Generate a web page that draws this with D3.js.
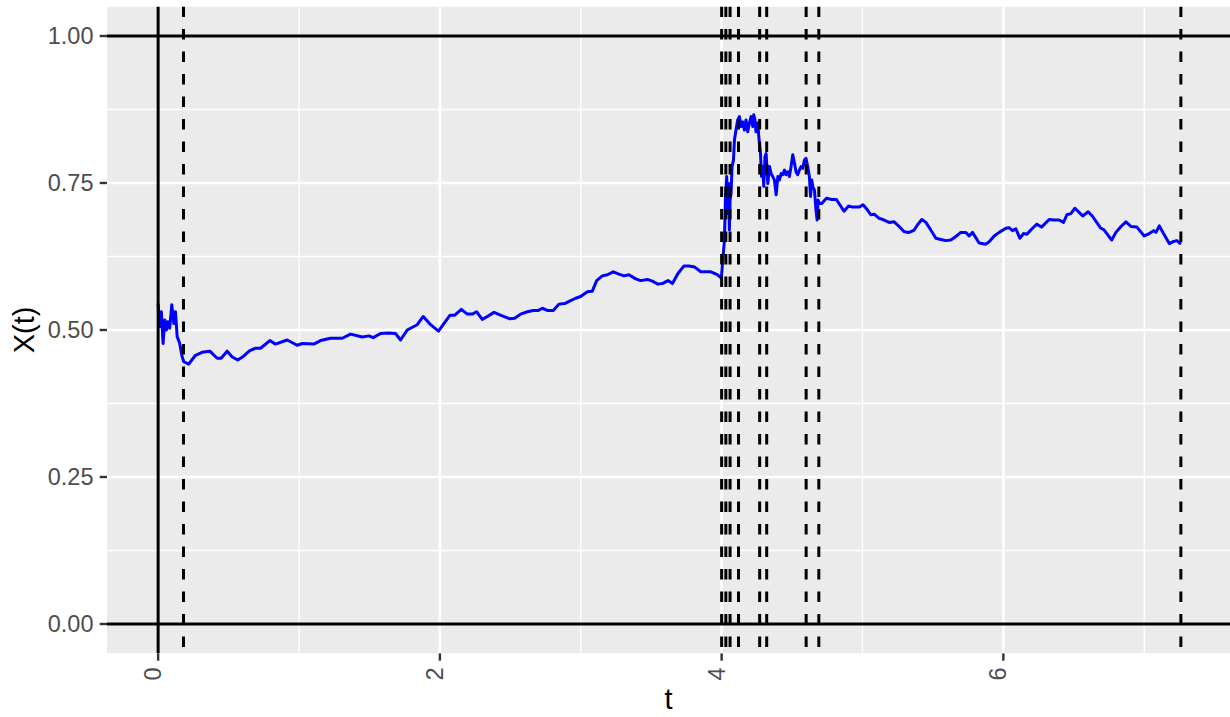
<!DOCTYPE html>
<html lang="en">
<head>
<meta charset="utf-8">
<title>X(t)</title>
<script src="https://d3js.org/d3.v7.min.js"></script>
<style>
  body { margin: 0; background: #fff; }
  svg text { font-family: "Liberation Sans", Arial, Helvetica, sans-serif; }
</style>
</head>
<body>
<script>

// path of X(t)
var tVals = [0.000, 0.011, 0.023, 0.035, 0.047, 0.059, 0.068, 0.082, 0.097, 0.111, 0.123, 0.135, 0.153, 0.170, 0.182,
  0.217, 0.265, 0.312, 0.367, 0.419, 0.447, 0.490, 0.526, 0.565, 0.604, 0.651, 0.691, 0.727, 0.793, 0.833, 0.916,
  0.987, 1.023, 1.105, 1.153, 1.224, 1.307, 1.366, 1.449, 1.496, 1.527, 1.579, 1.638, 1.685, 1.721, 1.768, 1.839,
  1.882, 1.934, 1.990, 2.071, 2.104, 2.152, 2.195, 2.230, 2.261, 2.301, 2.337, 2.384, 2.443, 2.497, 2.531, 2.573,
  2.621, 2.663, 2.696, 2.727, 2.767, 2.805, 2.845, 2.886, 2.928, 2.964, 2.999, 3.047, 3.082, 3.113, 3.153, 3.189,
  3.231, 3.271, 3.307, 3.342, 3.390, 3.425, 3.473, 3.508, 3.548, 3.579, 3.619, 3.651, 3.690, 3.733, 3.768, 3.809,
  3.852, 3.923, 3.970, 3.998,
  4.008, 4.020, 4.027, 4.036, 4.043, 4.050, 4.055, 4.060, 4.067, 4.074, 4.084, 4.091, 4.102, 4.114, 4.126, 4.138,
  4.150, 4.162, 4.173, 4.185, 4.197, 4.209, 4.221, 4.228, 4.237, 4.244, 4.256, 4.268, 4.276, 4.283, 4.292, 4.299,
  4.308, 4.316, 4.328, 4.340, 4.351, 4.363, 4.375, 4.387, 4.399, 4.410, 4.422, 4.434, 4.446, 4.457, 4.469, 4.481,
  4.493, 4.505, 4.517, 4.528, 4.540, 4.552, 4.564, 4.576, 4.588, 4.599, 4.611, 4.623, 4.631, 4.640, 4.647, 4.659,
  4.670, 4.678, 4.685, 4.695,
  4.711, 4.744, 4.782, 4.815, 4.839, 4.869, 4.901, 4.929, 4.976, 5.004, 5.036, 5.059, 5.083, 5.118, 5.142, 5.161,
  5.189, 5.225, 5.260, 5.296, 5.331, 5.367, 5.391, 5.421, 5.450, 5.485, 5.521, 5.556, 5.592, 5.627, 5.663, 5.698,
  5.734, 5.757, 5.781, 5.828, 5.876, 5.899, 5.935, 5.970, 6.018, 6.041, 6.065, 6.089,
  6.117, 6.143, 6.167, 6.207, 6.238, 6.271, 6.325, 6.361, 6.396, 6.427, 6.451, 6.479, 6.508, 6.563, 6.602, 6.634,
  6.688, 6.716, 6.769, 6.799, 6.835, 6.870, 6.906, 6.948, 7.000, 7.036, 7.067, 7.083, 7.107, 7.142, 7.178, 7.202,
  7.232, 7.260];

var xVals = [0.545, 0.506, 0.531, 0.477, 0.517, 0.500, 0.514, 0.503, 0.543, 0.511, 0.531, 0.489, 0.477, 0.455, 0.446,
  0.442, 0.457, 0.462, 0.464, 0.452, 0.452, 0.464, 0.454, 0.449, 0.455, 0.465, 0.469, 0.469, 0.482, 0.476, 0.483,
  0.474, 0.477, 0.476, 0.482, 0.486, 0.486, 0.493, 0.488, 0.490, 0.487, 0.494, 0.495, 0.494, 0.483, 0.500, 0.509,
  0.523, 0.509, 0.498, 0.525, 0.525, 0.535, 0.527, 0.527, 0.531, 0.518, 0.523, 0.530, 0.524, 0.519, 0.520, 0.527,
  0.531, 0.533, 0.533, 0.537, 0.533, 0.533, 0.544, 0.545, 0.550, 0.554, 0.557, 0.565, 0.566, 0.584, 0.592, 0.594,
  0.599, 0.595, 0.592, 0.594, 0.587, 0.584, 0.586, 0.583, 0.578, 0.579, 0.584, 0.579, 0.596, 0.609, 0.609, 0.607,
  0.599, 0.599, 0.594, 0.588,
  0.619, 0.653, 0.721, 0.761, 0.698, 0.749, 0.670, 0.721, 0.732, 0.778, 0.789, 0.823, 0.840, 0.857, 0.863, 0.846,
  0.854, 0.840, 0.857, 0.837, 0.852, 0.863, 0.846, 0.866, 0.857, 0.837, 0.852, 0.818, 0.800, 0.761, 0.778, 0.744,
  0.795, 0.800, 0.749, 0.778, 0.766, 0.761, 0.755, 0.730, 0.761, 0.755, 0.766, 0.764, 0.772, 0.764, 0.769, 0.761,
  0.778, 0.798, 0.784, 0.769, 0.764, 0.772, 0.778, 0.775, 0.789, 0.792, 0.778, 0.761, 0.727, 0.755, 0.744, 0.738,
  0.704, 0.687, 0.721, 0.715,
  0.715, 0.724, 0.722, 0.722, 0.713, 0.702, 0.711, 0.709, 0.709, 0.713, 0.704, 0.696, 0.697, 0.690, 0.688, 0.686,
  0.683, 0.684, 0.676, 0.667, 0.666, 0.670, 0.679, 0.688, 0.683, 0.670, 0.656, 0.654, 0.652, 0.653, 0.659, 0.666,
  0.666, 0.660, 0.666, 0.648, 0.646, 0.650, 0.660, 0.666, 0.673, 0.674, 0.669, 0.672,
  0.656, 0.664, 0.663, 0.673, 0.680, 0.675, 0.688, 0.687, 0.687, 0.683, 0.696, 0.698, 0.707, 0.694, 0.701, 0.693,
  0.674, 0.670, 0.653, 0.666, 0.676, 0.684, 0.676, 0.675, 0.660, 0.664, 0.669, 0.666, 0.677, 0.662, 0.647, 0.650,
  0.652, 0.646];

var jumpTimes = [0.18, 4.00, 4.03, 4.06, 4.12, 4.27, 4.32, 4.60, 4.69, 7.26];
var startTime = [0];
var bounds = [0, 1];

var xTicks = [0, 2, 4, 6];
var xMinor = [1, 3, 5, 7];
var yTicks = [0, 0.25, 0.5, 0.75, 1];
var yMinor = [0.125, 0.375, 0.625, 0.875];

var width = 1230;
var height = 717;
var margin = {top: 6.6, right: -2, bottom: 63.6, left: 107};

var data = tVals.map(function(t, i) { return {t: t, x: xVals[i]}; });

var tMax = d3.max(tVals.concat(jumpTimes));
var padX = (tMax - 0) * 0.05;
var xScale = d3.scaleLinear()
  .domain([0 - padX, tMax + padX])
  .range([margin.left, width - margin.right]);

var yScale = d3.scaleLinear()
  .domain([-0.05, 1.05])
  .range([height - margin.bottom, margin.top]);

var svg = d3.select("body")
  .append("svg")
  .attr("width", width)
  .attr("height", height);

var x0 = margin.left, x1 = width - margin.right;
var y0 = margin.top, y1 = height - margin.bottom;

svg.append("clipPath").attr("id", "panel")
  .append("rect")
  .attr("x", x0).attr("y", y0)
  .attr("width", x1 - x0).attr("height", y1 - y0);

var panel = svg.append("g").attr("clip-path", "url(#panel)");

panel.append("rect")
  .attr("x", x0).attr("y", y0)
  .attr("width", x1 - x0).attr("height", y1 - y0)
  .attr("fill", "#EBEBEB");

// grid
panel.selectAll(".ym").data(yMinor).enter().append("line")
  .attr("x1", x0).attr("x2", x1)
  .attr("y1", function(d) { return yScale(d); })
  .attr("y2", function(d) { return yScale(d); })
  .attr("stroke", "#fff").attr("stroke-width", 1.3);

panel.selectAll(".xm").data(xMinor).enter().append("line")
  .attr("y1", y0).attr("y2", y1)
  .attr("x1", function(d) { return xScale(d); })
  .attr("x2", function(d) { return xScale(d); })
  .attr("stroke", "#fff").attr("stroke-width", 1.3);

panel.selectAll(".yg").data(yTicks).enter().append("line")
  .attr("x1", x0).attr("x2", x1)
  .attr("y1", function(d) { return yScale(d); })
  .attr("y2", function(d) { return yScale(d); })
  .attr("stroke", "#fff").attr("stroke-width", 2.6);

panel.selectAll(".xg").data(xTicks).enter().append("line")
  .attr("y1", y0).attr("y2", y1)
  .attr("x1", function(d) { return xScale(d); })
  .attr("x2", function(d) { return xScale(d); })
  .attr("stroke", "#fff").attr("stroke-width", 2.6);

// path
var line = d3.line()
  .x(function(d) { return xScale(d.t); })
  .y(function(d) { return yScale(d.x); });

panel.append("path")
  .datum(data)
  .attr("d", line)
  .attr("fill", "none")
  .attr("stroke", "#0000FF")
  .attr("stroke-width", 3)
  .attr("stroke-linejoin", "round");

// reference lines
panel.selectAll(".jump").data(jumpTimes).enter().append("line")
  .attr("x1", function(d) { return xScale(d); })
  .attr("x2", function(d) { return xScale(d); })
  .attr("y1", y0).attr("y2", y1)
  .attr("stroke", "#000").attr("stroke-width", 3)
  .attr("stroke-dasharray", "10.5,12");

panel.selectAll(".start").data(startTime).enter().append("line")
  .attr("x1", function(d) { return xScale(d); })
  .attr("x2", function(d) { return xScale(d); })
  .attr("y1", y0).attr("y2", y1)
  .attr("stroke", "#000").attr("stroke-width", 3);

panel.selectAll(".bound").data(bounds).enter().append("line")
  .attr("x1", x0).attr("x2", x1)
  .attr("y1", function(d) { return yScale(d); })
  .attr("y2", function(d) { return yScale(d); })
  .attr("stroke", "#000").attr("stroke-width", 3);

// axes
svg.selectAll(".ytick").data(yTicks).enter().append("line")
  .attr("x1", x0 - 7.3).attr("x2", x0)
  .attr("y1", function(d) { return yScale(d); })
  .attr("y2", function(d) { return yScale(d); })
  .attr("stroke", "#333").attr("stroke-width", 2.4);

svg.selectAll(".ylab").data(yTicks).enter().append("text")
  .attr("x", x0 - 13.5)
  .attr("y", function(d) { return yScale(d); })
  .attr("dy", "0.36em")
  .attr("text-anchor", "end")
  .attr("font-size", 23.5)
  .attr("fill", "#4D4D4D")
  .text(d3.format(".2f"));

svg.selectAll(".xtick").data(xTicks).enter().append("line")
  .attr("x1", function(d) { return xScale(d); })
  .attr("x2", function(d) { return xScale(d); })
  .attr("y1", y1).attr("y2", y1 + 7.3)
  .attr("stroke", "#333").attr("stroke-width", 2.4);

svg.selectAll(".xlab").data(xTicks).enter().append("text")
  .attr("transform", function(d) {
    return "translate(" + (xScale(d) + 3) + "," + (y1 + 14) + ") rotate(-90)";
  })
  .attr("text-anchor", "end")
  .attr("font-size", 23.5)
  .attr("fill", "#4D4D4D")
  .text(function(d) { return d; });

svg.append("text")
  .attr("x", (x0 + Math.min(x1, width)) / 2)
  .attr("y", 709)
  .attr("text-anchor", "middle")
  .attr("font-size", 29)
  .attr("fill", "#000")
  .text("t");

svg.append("text")
  .attr("transform", "translate(34," + ((y0 + y1) / 2) + ") rotate(-90)")
  .attr("text-anchor", "middle")
  .attr("font-size", 29)
  .attr("fill", "#000")
  .text("X(t)");

</script>
</body>
</html>
